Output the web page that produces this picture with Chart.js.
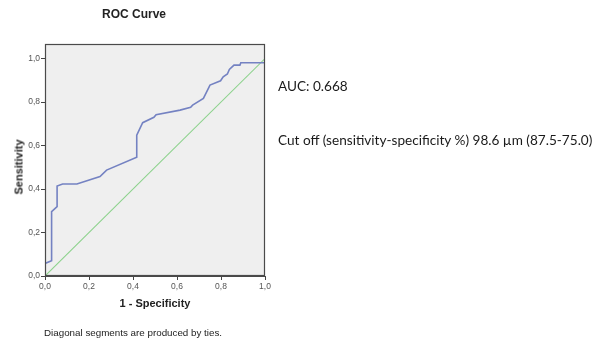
<!DOCTYPE html>
<html>
<head>
<meta charset="utf-8">
<script src="https://cdn.jsdelivr.net/npm/chart.js@4"></script>
<style>
  html, body { margin: 0; padding: 0; background: #ffffff; }
  #wrap { position: relative; width: 611px; height: 343px; overflow: hidden; background: #fff; }
  #c { position: absolute; left: 0; top: 0; }
  .t { position: absolute; white-space: nowrap; line-height: 1; color: #222; }
  .cen { transform: translate(-50%, -50%); }
  .sans { font-family: "Liberation Sans", Arial, sans-serif; }
  .cal { font-family: Lato, "Liberation Sans", sans-serif; color: #1a1a1a; }
</style>
</head>
<body>
<div id="wrap">
  <canvas id="c" width="611" height="343"></canvas>
  <div class="t cen sans" style="left:134px; top:14px; font-size:12px; font-weight:bold;">ROC Curve</div>
  <div class="t sans" style="left:18.5px; top:166.5px; font-size:11px; font-weight:bold; transform: translate(-50%, -50%) rotate(-90deg);">Sensitivity</div>
  <div class="t cal" style="left:278px; top:80px; font-size:13.6px;">AUC: 0.668</div>
  <div class="t cal" style="left:278px; top:134px; font-size:13.6px;">Cut off (sensitivity-specificity %) 98.6 µm (87.5-75.0)</div>
  <div class="t sans" style="left:44px; top:328px; font-size:9.8px;">Diagonal segments are produced by ties.</div>
</div>
<script>
// ---- data ----
const fpr = [0, 0, 0.03, 0.03, 0.055, 0.055, 0.08, 0.145, 0.25, 0.28, 0.417, 0.417, 0.444, 0.495, 0.505,
             0.614, 0.662, 0.671, 0.72, 0.75, 0.798, 0.81, 0.829, 0.838, 0.859, 0.886, 0.89, 1.0, 1.0];
const tpr = [0, 0.058, 0.07, 0.296, 0.319, 0.414, 0.423, 0.423, 0.457, 0.487, 0.546, 0.648, 0.705, 0.730, 0.742,
             0.763, 0.776, 0.786, 0.817, 0.878, 0.898, 0.916, 0.929, 0.950, 0.970, 0.970, 0.981, 0.981, 1.0];
const refX = [0, 1];
const refY = [0, 1];
const tickValues = [0, 0.2, 0.4, 0.6, 0.8, 1.0];
const xTitle = '1 - Specificity';

const curvePts = fpr.map((x, i) => ({ x: x, y: tpr[i] }));
const refPts = refX.map((x, i) => ({ x: x, y: refY[i] }));

const fmt = v => Number(v).toFixed(1).replace('.', ',');

const plotBox = {
  id: 'plotBox',
  beforeDraw(chart) {
    const a = chart.chartArea, ctx = chart.ctx;
    ctx.save();
    ctx.fillStyle = '#efefef';
    ctx.fillRect(a.left, a.top, a.right - a.left, a.bottom - a.top);
    ctx.restore();
  },
  afterDraw(chart) {
    const a = chart.chartArea, ctx = chart.ctx;
    ctx.save();
    ctx.strokeStyle = '#4a4a4a';
    ctx.lineWidth = 1.2;
    ctx.strokeRect(a.left + 0.5, a.top + 0.5, a.right - a.left - 1, a.bottom - a.top - 1);
    ctx.restore();
  }
};

Chart.defaults.font.family = '"Liberation Sans", Arial, sans-serif';

new Chart(document.getElementById('c'), {
  type: 'line',
  data: {
    datasets: [
      { data: curvePts, borderColor: '#7482c2', borderWidth: 1.6, pointRadius: 0, tension: 0, fill: false },
      { data: refPts, borderColor: '#8cd28c', borderWidth: 1.1, pointRadius: 0, tension: 0, fill: false }
    ]
  },
  options: {
    responsive: false,
    animation: false,
    devicePixelRatio: 1,
    layout: { padding: { left: 0, top: 44, right: 346, bottom: 27 } },
    plugins: { legend: { display: false }, tooltip: { enabled: false }, title: { display: false } },
    scales: {
      x: {
        type: 'linear', min: 0, max: 1,
        afterFit(s) { s.height = 40; },
        afterBuildTicks(s) { s.ticks = tickValues.map(v => ({ value: v })); },
        ticks: { callback: v => fmt(v), font: { size: 8.5 }, color: '#555', padding: 2, maxRotation: 0, autoSkip: false },
        grid: { drawOnChartArea: false, drawTicks: true, tickLength: 4, color: '#444' },
        border: { display: true, color: '#4a4a4a' },
        title: { display: true, text: xTitle, font: { size: 11, weight: 'bold' }, color: '#222', padding: { top: 0, bottom: 5 } }
      },
      y: {
        type: 'linear', min: 0, max: 1.067,
        afterFit(s) { s.width = 45; },
        afterBuildTicks(s) { s.ticks = tickValues.map(v => ({ value: v })); },
        ticks: { callback: v => fmt(v), font: { size: 8.5 }, color: '#555', padding: 1, autoSkip: false },
        grid: { drawOnChartArea: false, drawTicks: true, tickLength: 4, color: '#444' },
        border: { display: true, color: '#4a4a4a' }
      }
    }
  },
  plugins: [plotBox]
});
</script>
</body>
</html>
